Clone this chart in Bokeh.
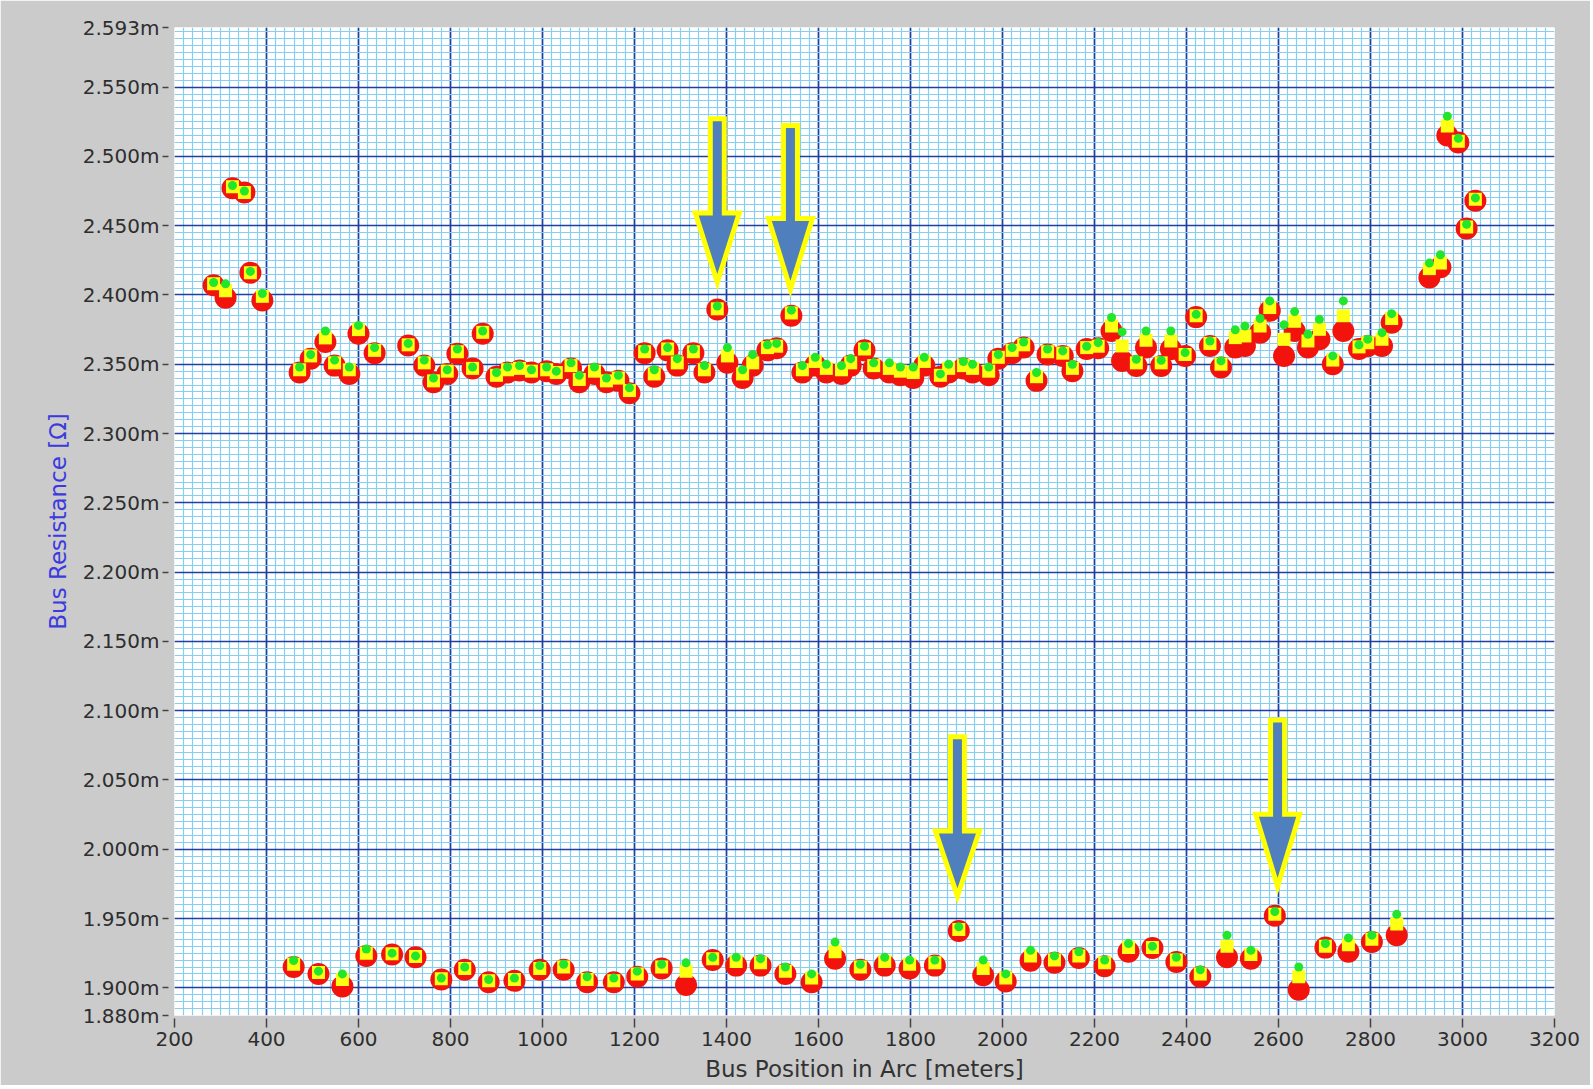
from bokeh.plotting import figure
from bokeh.models import Range1d, FixedTicker, PrintfTickFormatter, ColumnDataSource
from bokeh.embed import file_html
from bokeh.resources import INLINE

# ---------------- data (bus resistance in mOhm) ----------------
upper_pos = [285, 311, 326, 352, 365, 391, 472, 496, 528, 548, 580, 600, 635, 708, 743, 763,
             793, 815, 848, 870, 900, 924, 950, 976, 1009, 1030, 1062, 1080, 1113, 1139, 1165,
             1189, 1222, 1243, 1272, 1293, 1328, 1352, 1380, 1402, 1435, 1457, 1489, 1509, 1541,
             1565, 1593, 1617, 1650, 1670, 1700, 1720, 1754, 1778, 1806, 1830, 1865, 1883, 1915,
             1935, 1970, 1991, 2021, 2046, 2074, 2098, 2131, 2152, 2183, 2208, 2237, 2260, 2291,
             2312, 2345, 2366, 2397, 2421, 2451, 2475, 2506, 2527, 2560, 2581, 2612, 2635, 2664,
             2689, 2718, 2741, 2775, 2794, 2825, 2846, 2928, 2952, 2967, 2991, 3009, 3028]
upper_red = [2.407, 2.398, 2.477, 2.474, 2.416, 2.396, 2.344, 2.354, 2.366, 2.349, 2.343, 2.372,
             2.358, 2.3635, 2.349, 2.337, 2.343, 2.3575, 2.347, 2.372, 2.341, 2.344, 2.3455,
             2.344, 2.345, 2.343, 2.347, 2.337, 2.343, 2.337, 2.338, 2.329, 2.358, 2.341, 2.360,
             2.349, 2.358, 2.344, 2.3895, 2.351, 2.340, 2.349, 2.360, 2.3615, 2.385, 2.344,
             2.349, 2.344, 2.343, 2.349, 2.360, 2.347, 2.344, 2.342, 2.340, 2.349, 2.341, 2.344,
             2.347, 2.344, 2.342, 2.354, 2.358, 2.362, 2.338, 2.357, 2.356, 2.345, 2.361,
             2.3615, 2.374, 2.3524, 2.3488, 2.362, 2.3488, 2.3608, 2.356, 2.384, 2.3632,
             2.3476, 2.362, 2.3632, 2.3728, 2.3885, 2.356, 2.374, 2.362, 2.368, 2.350, 2.374,
             2.361, 2.3632, 2.3632, 2.380, 2.4126, 2.420, 2.515, 2.510, 2.448, 2.468]
upper_yellow = [2.408, 2.403, 2.478, 2.474, 2.416, 2.399, 2.346, 2.356, 2.369, 2.351, 2.346,
                2.375, 2.360, 2.364, 2.351, 2.338, 2.345, 2.359, 2.347, 2.373, 2.342, 2.346,
                2.347, 2.345, 2.346, 2.344, 2.349, 2.339, 2.345, 2.338, 2.340, 2.331, 2.359,
                2.343, 2.361, 2.351, 2.359, 2.346, 2.390, 2.356, 2.343, 2.351, 2.362, 2.363,
                2.387, 2.346, 2.352, 2.347, 2.346, 2.351, 2.361, 2.349, 2.347, 2.345, 2.344,
                2.352, 2.342, 2.347, 2.349, 2.347, 2.345, 2.355, 2.360, 2.364, 2.341, 2.359,
                2.358, 2.347, 2.362, 2.363, 2.3776, 2.3632, 2.351, 2.3673, 2.351, 2.3668,
                2.357, 2.385, 2.365, 2.350, 2.3692, 2.3704, 2.3776, 2.3909, 2.368, 2.381,
                2.3668, 2.3752, 2.353, 2.385, 2.3625, 2.3655, 2.368, 2.383, 2.419, 2.423,
                2.522, 2.511, 2.449, 2.469]
upper_green = [2.409, 2.408, 2.479, 2.475, 2.417, 2.401, 2.348, 2.357, 2.374, 2.353, 2.348,
               2.378, 2.362, 2.365, 2.353, 2.340, 2.346, 2.361, 2.348, 2.374, 2.344, 2.348,
               2.349, 2.346, 2.348, 2.345, 2.351, 2.342, 2.348, 2.340, 2.342, 2.333, 2.361,
               2.346, 2.362, 2.354, 2.361, 2.349, 2.392, 2.362, 2.346, 2.357, 2.364, 2.365,
               2.389, 2.349, 2.355, 2.350, 2.349, 2.354, 2.363, 2.351, 2.351, 2.348, 2.348,
               2.355, 2.343, 2.350, 2.352, 2.350, 2.348, 2.357, 2.362, 2.366, 2.344, 2.361,
               2.3596, 2.350, 2.363, 2.3656, 2.3837, 2.3733, 2.3536, 2.374, 2.3529, 2.374,
               2.3584, 2.386, 2.3668, 2.3524, 2.3748, 2.3776, 2.383, 2.3957, 2.3784, 2.388,
               2.3716, 2.3824, 2.356, 2.3957, 2.364, 2.368, 2.3728, 2.3865, 2.423, 2.429,
               2.529, 2.513, 2.451, 2.470]

lower_pos = [459, 513, 565, 617, 673, 724, 780, 831, 883, 939, 994, 1046, 1097, 1155, 1206,
             1259, 1312, 1370, 1421, 1474, 1528, 1585, 1636, 1691, 1744, 1798, 1853, 1905,
             1958, 2007, 2061, 2113, 2166, 2222, 2274, 2326, 2378, 2430, 2488, 2540, 2592,
             2644, 2702, 2752, 2803, 2857]
lower_red = [1.915, 1.910, 1.901, 1.923, 1.924, 1.922, 1.906, 1.913, 1.904, 1.905, 1.913, 1.913,
             1.904, 1.904, 1.908, 1.914, 1.902, 1.920, 1.916, 1.916, 1.910, 1.904, 1.921, 1.913,
             1.916, 1.914, 1.916, 1.941, 1.909, 1.9046, 1.9196, 1.918, 1.9215, 1.9155, 1.926,
             1.9287, 1.9186, 1.908, 1.922, 1.921, 1.952, 1.8986, 1.929, 1.926, 1.933, 1.938]
lower_yellow = [1.917, 1.911, 1.906, 1.925, 1.9245, 1.9225, 1.9065, 1.914, 1.905, 1.906, 1.914,
                1.915, 1.906, 1.905, 1.910, 1.915, 1.912, 1.921, 1.919, 1.918, 1.912, 1.907,
                1.926, 1.915, 1.919, 1.917, 1.918, 1.942, 1.914, 1.907, 1.923, 1.920, 1.923,
                1.918, 1.929, 1.929, 1.920, 1.910, 1.930, 1.924, 1.953, 1.908, 1.930, 1.931,
                1.935, 1.946]
lower_green = [1.9197, 1.912, 1.910, 1.928, 1.925, 1.923, 1.907, 1.915, 1.906, 1.907, 1.916,
               1.917, 1.908, 1.907, 1.912, 1.917, 1.918, 1.922, 1.922, 1.921, 1.915, 1.910,
               1.933, 1.917, 1.922, 1.920, 1.920, 1.944, 1.920, 1.910, 1.927, 1.923, 1.926,
               1.920, 1.932, 1.930, 1.922, 1.913, 1.938, 1.927, 1.955, 1.915, 1.932, 1.936,
               1.938, 1.953]

# annotation arrows (outer extents, data units)
arrow_x = [1380, 1539, 1902, 2598]
arrow_top = [2.529, 2.524, 2.083, 2.095]
arrow_neck = [2.461, 2.457, 2.015, 2.027]
arrow_tip = [2.403, 2.398, 1.960, 1.967]

x_ticks = [200, 400, 600, 800, 1000, 1200, 1400, 1600, 1800, 2000, 2200, 2400, 2600, 2800, 3000, 3200]
y_ticks = [1.880, 1.900, 1.950, 2.000, 2.050, 2.100, 2.150, 2.200, 2.250, 2.300, 2.350, 2.400,
           2.450, 2.500, 2.550, 2.593]

# ---------------- figure ----------------
X0, X1, Y0, Y1 = 200, 3200, 1.880, 2.593
W, H = 1590, 1085
BL, BT = 174, 27
BR, BB = W - 1554, H - 1015
FW, FH = W - BL - BR, H - BT - BB

p = figure(width=W, height=H, output_backend="svg", toolbar_location=None,
           x_range=Range1d(X0, X1), y_range=Range1d(Y0, Y1),
           min_border_left=BL, min_border_right=BR, min_border_top=BT, min_border_bottom=BB)
p.background_fill_color = "#ffffff"
p.border_fill_color = "#cbcbcb"
p.outline_line_color = None

# grids
p.xgrid.ticker = FixedTicker(ticks=x_ticks[1:-1], minor_ticks=list(range(200, 3201, 20)))
p.ygrid.ticker = FixedTicker(ticks=y_ticks[1:-1],
                             minor_ticks=[round(1.880 + 0.005 * i, 3) for i in range(143)])
for g in (p.xgrid, p.ygrid):
    g.grid_line_color = "#1f3fa3"
    g.grid_line_width = 1.7
    g.minor_grid_line_color = "#86cff1"
    g.minor_grid_line_width = 1.2

# axes
p.xaxis.ticker = FixedTicker(ticks=x_ticks)
p.yaxis.ticker = FixedTicker(ticks=y_ticks)
p.yaxis.formatter = PrintfTickFormatter(format="%.3fm")
for ax in (p.xaxis, p.yaxis):
    ax.axis_line_color = None
    ax.minor_tick_line_color = None
    ax.major_tick_line_color = "#444444"
    ax.major_tick_line_width = 1.5
    ax.major_label_text_font = "DejaVu Sans"
    ax.major_label_text_font_size = "20px"
    ax.major_label_text_color = "#2e2e2e"
    ax.axis_label_text_font = "DejaVu Sans"
    ax.axis_label_text_font_size = "23px"
    ax.axis_label_text_font_style = "normal"
p.xaxis.major_tick_in = -3
p.xaxis.major_tick_out = 12
p.xaxis.major_label_standoff = 4
p.yaxis.major_tick_in = -6
p.yaxis.major_tick_out = 12
p.yaxis.major_label_standoff = 3
p.xaxis.axis_label = "Bus Position in Arc [meters]"
p.xaxis.axis_label_text_color = "#333333"
p.xaxis.axis_label_standoff = 7
p.yaxis.axis_label = "Bus Resistance [Ω]"
p.yaxis.axis_label_text_color = "#3a3ae0"
p.yaxis.axis_label_standoff = 9

# data markers
src = ColumnDataSource(dict(pos=upper_pos + lower_pos,
                            red=upper_red + lower_red,
                            yellow=upper_yellow + lower_yellow,
                            green=upper_green + lower_green))
p.scatter("pos", "red", source=src, marker="circle", size=22,
          fill_color="#f2140c", line_color=None)
p.scatter("pos", "yellow", source=src, marker="square", size=13,
          fill_color="#ffff14", line_color=None)
p.scatter("pos", "green", source=src, marker="circle", size=9,
          fill_color="#22e62a", line_color=None)

# arrows (geometry from pixel sizes)
xpp = (X1 - X0) / FW
ypp = (Y1 - Y0) / FH
LW = 5.0
shaft_hw = (9.5 - LW / 2) * xpp
head_hw = (24.5 - LW / 2) * xpp
xs, ys = [], []
for ax_, top, neck, tip in zip(arrow_x, arrow_top, arrow_neck, arrow_tip):
    t = top - (LW / 2) * ypp
    n = neck - (LW / 2) * ypp
    k = tip + 8.5 * ypp
    xs.append([ax_ - shaft_hw, ax_ + shaft_hw, ax_ + shaft_hw, ax_ + head_hw, ax_,
               ax_ - head_hw, ax_ - shaft_hw])
    ys.append([t, t, n, n, k, n, n])
p.patches(xs, ys, fill_color="#4f7fbd", line_color="#ffff00", line_width=LW,
          line_join="miter")

open("out.html", "w").write(file_html(p, INLINE))
